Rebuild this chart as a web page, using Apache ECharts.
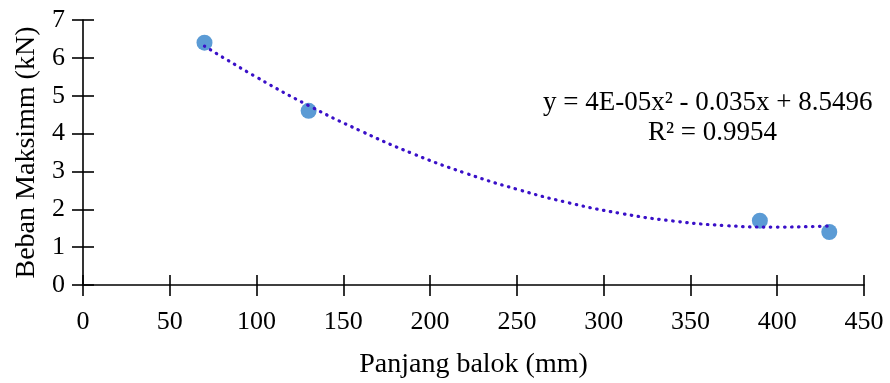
<!DOCTYPE html>
<html>
<head>
<meta charset="utf-8">
<script src="https://cdn.jsdelivr.net/npm/echarts@6/dist/echarts.min.js"></script>
<style>
  html, body { margin: 0; padding: 0; background: #fff; }
  #chart { width: 890px; height: 383px; }
</style>
</head>
<body>
<div id="chart"></div>
<script>
// measured points
const panjang = [70, 130, 390, 430];
const beban = [6.4, 4.6, 1.7, 1.4];

// dotted trendline
const trendX = [70, 100, 130, 160, 190, 220, 250, 280, 310, 340, 370, 400, 430];
const trendY = [6.31, 5.49, 4.74, 4.07, 3.47, 2.96, 2.53, 2.17, 1.89, 1.69, 1.57, 1.53, 1.56];

const eqLine1 = 'y = 4E-05x² - 0.035x + 8.5496';
const eqLine2 = 'R² = 0.9954';

const font = '"Liberation Serif", "Times New Roman", serif';
const tickStyle = { color: '#000', width: 1.6 };

let chart = echarts.init(document.getElementById('chart'));

// second pair of axes only draws the inner half of the crossing ticks
let option = {
  animation: false,
  grid: { left: 83, right: 26, top: 20, bottom: 98, outerBoundsMode: 'none' },
  xAxis: [{
    type: 'value',
    min: 0,
    max: 450,
    interval: 50,
    name: 'Panjang balok (mm)',
    nameLocation: 'middle',
    nameGap: 66,
    nameTextStyle: { fontFamily: font, fontSize: 28, color: '#000' },
    axisLine: { show: true, onZero: false, lineStyle: tickStyle },
    axisTick: { show: true, inside: false, length: 11, lineStyle: tickStyle },
    axisLabel: { fontFamily: font, fontSize: 26, color: '#000', margin: 24 },
    splitLine: { show: false }
  }, {
    type: 'value',
    position: 'bottom',
    min: 0,
    max: 450,
    interval: 50,
    axisLine: { show: false, onZero: false },
    axisTick: { show: true, inside: true, length: 10, lineStyle: tickStyle },
    axisLabel: { show: false },
    splitLine: { show: false }
  }],
  yAxis: [{
    type: 'value',
    min: 0,
    max: 7,
    interval: 1,
    name: 'Beban Maksimm (kN)',
    nameLocation: 'middle',
    nameGap: 42,
    nameTextStyle: { fontFamily: font, fontSize: 28, color: '#000' },
    axisLine: { show: true, onZero: false, lineStyle: tickStyle },
    axisTick: { show: true, inside: false, length: 11, lineStyle: tickStyle },
    axisLabel: { fontFamily: font, fontSize: 26, color: '#000', margin: 18 },
    splitLine: { show: false }
  }, {
    type: 'value',
    position: 'left',
    min: 0,
    max: 7,
    interval: 1,
    axisLine: { show: false, onZero: false },
    axisTick: { show: true, inside: true, length: 11, lineStyle: tickStyle },
    axisLabel: { show: false },
    splitLine: { show: false }
  }],
  graphic: [
    { type: 'text', left: 543, top: 89, style: { text: eqLine1, font: '27px ' + font, fill: '#000' } },
    { type: 'text', left: 648, top: 119, style: { text: eqLine2, font: '27px ' + font, fill: '#000' } }
  ],
  series: [
    {
      type: 'scatter',
      data: panjang.map((x, i) => [x, beban[i]]),
      symbolSize: 16,
      itemStyle: { color: '#5B9BD5', opacity: 1 },
      z: 2
    },
    {
      type: 'line',
      data: trendX.map((x, i) => [x, trendY[i]]),
      smooth: true,
      showSymbol: false,
      lineStyle: { color: '#3A10C8', width: 3.2, type: [0.5, 6.5], cap: 'round' },
      z: 3
    }
  ]
};

chart.setOption(option);
</script>
</body>
</html>
